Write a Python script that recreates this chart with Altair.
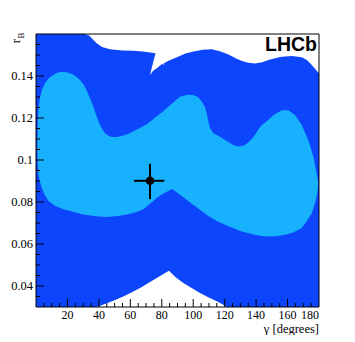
import altair as alt
import pandas as pd

# ---- data ----
OUTER_GAMMA = [0, 31, 34, 36.5, 38.6, 42, 47, 55, 62, 68, 76.0, 72.5, 74.5, 76.8, 80.6, 81.0, 81.4,
               85, 90, 95, 101, 106, 111.8, 117, 122.4, 127, 131, 135, 139.3, 144, 147.8, 152,
               156.3, 162.7, 169, 172.5, 175.4, 178, 180,
               180, 121.3, 118, 114.9, 109.6, 104.3, 99, 93.7, 89, 84.6, 80.5, 76.8, 71.5, 66.2,
               61, 55.5, 50, 45, 40, 38.6, 0]
OUTER_RB = [0.160, 0.160, 0.1592, 0.1572, 0.1556, 0.1538, 0.1527, 0.1522, 0.1520, 0.1517, 0.1508,
            0.1405, 0.1425, 0.1437, 0.1459, 0.1450, 0.1461,
            0.1475, 0.1490, 0.1507, 0.1518, 0.1525, 0.1527, 0.1518, 0.1502, 0.1485, 0.1471,
            0.1463, 0.1460, 0.1466, 0.1476, 0.1485, 0.1492, 0.1495, 0.1489, 0.1475, 0.1452,
            0.1430, 0.1413,
            0.030, 0.030, 0.0315, 0.0327, 0.0346, 0.0367, 0.0390, 0.0414, 0.0440, 0.0473,
            0.0455, 0.0438, 0.0414, 0.0390, 0.0370, 0.0350, 0.0332, 0.0318, 0.0303, 0.030, 0.030]

INNER_GAMMA = [1.1, 0.9, 0.9, 1.1, 1.5, 2.5, 3.8, 5.7, 8.0, 10.0, 13.0, 16.3, 19.5, 22.7, 25.5,
               28.0, 30.5, 32.6, 34.6, 36.5, 38.4, 40.3, 42.0, 43.9, 46.0, 48.2, 51.0, 54.5,
               58.0, 61.9, 66.0, 70.4, 73.5, 76.8, 80.5, 84.2, 88.0, 91.6, 95.8, 98.0, 100.0,
               103.2, 105.4, 107.5, 108.6, 109.6, 110.7, 112.8, 117.0, 121.3, 125.5, 128.5,
               131.9, 134.8, 137.2, 139.5, 141.5, 143.5, 146.0, 151.0, 156.3, 160.5, 164.8,
               169.0, 173.2, 176.4, 178.5, 179.5, 179.2, 178.5, 177.5, 175.5, 172.2, 169.0,
               163.7, 158.4, 153.0, 147.8, 143.5, 139.3, 130.8, 125.5, 120.2, 115.0, 109.6,
               104.3, 99.0, 95.8, 92.0, 88.4, 86.7, 83.5, 80.5, 76.8, 72.5, 68.3, 64.0, 58.0,
               52.0, 45.0, 38.0, 30.0, 24.0, 17.0, 12.0, 8.0, 5.5, 3.5, 2.2, 1.5]
INNER_RB = [0.0980, 0.1040, 0.1095, 0.1170, 0.1238, 0.1295, 0.1335, 0.1365, 0.1388, 0.1400,
            0.1414, 0.1420, 0.1418, 0.1410, 0.1398, 0.1381, 0.1357, 0.1325, 0.1290, 0.1253,
            0.1212, 0.1174, 0.1148, 0.1127, 0.1115, 0.1110, 0.1110, 0.1114, 0.1123, 0.1137,
            0.1152, 0.1170, 0.1188, 0.1208, 0.1230, 0.1253, 0.1278, 0.1301, 0.1309, 0.1311,
            0.1309, 0.1299, 0.1278, 0.1251, 0.1222, 0.1184, 0.1151, 0.1127, 0.1111, 0.1091,
            0.1071, 0.1064, 0.1068, 0.1082, 0.1100, 0.1122, 0.1148, 0.1165, 0.1180, 0.1213,
            0.1237, 0.1237, 0.1213, 0.1168, 0.1095, 0.1017, 0.0937, 0.0890, 0.0859, 0.0825,
            0.0795, 0.0748, 0.0708, 0.0676, 0.0655, 0.0644, 0.0637, 0.0636, 0.0638, 0.0644,
            0.0660, 0.0675, 0.0692, 0.0710, 0.0733, 0.0763, 0.0792, 0.0811, 0.0832, 0.0852,
            0.0862, 0.0850, 0.0838, 0.0819, 0.0792, 0.0765, 0.0752, 0.0740, 0.0733, 0.0729,
            0.0732, 0.0741, 0.0752, 0.0767, 0.0782, 0.0805, 0.0835, 0.0870, 0.0905, 0.0937]

BEST_GAMMA = [72.5]
BEST_RB = [0.0901]
GAMMA_LO = [62.3]
GAMMA_HI = [81.6]
RB_LO = [0.0814]
RB_HI = [0.0982]

X_LABELS = [20, 40, 60, 80, 100, 120, 140, 160]
X_LAST_LABEL = [180]
X_MAJOR = [20, 40, 60, 80, 100, 120, 140, 160]
X_MINOR = [5, 10, 15, 25, 30, 35, 45, 50, 55, 65, 70, 75, 85, 90, 95, 105, 110, 115,
           125, 130, 135, 145, 150, 155, 165, 170, 175]
Y_LABELS = [0.04, 0.06, 0.08, 0.1, 0.12, 0.14]
Y_MINOR = [0.035, 0.045, 0.05, 0.055, 0.065, 0.07, 0.075, 0.085, 0.09, 0.095, 0.105,
           0.11, 0.115, 0.125, 0.13, 0.135, 0.145, 0.15, 0.155]

DARK = "#0d45fc"
LIGHT = "#18b1fd"
W, H = 283, 273
SERIF = "Liberation Serif"

xs = alt.Scale(domain=[0, 180], nice=False, zero=False)
ys = alt.Scale(domain=[0.03, 0.16], nice=False, zero=False)

outer_df = pd.DataFrame({"g": OUTER_GAMMA, "r": OUTER_RB, "i": list(range(len(OUTER_GAMMA)))})
inner_df = pd.DataFrame({"g": INNER_GAMMA, "r": INNER_RB, "i": list(range(len(INNER_GAMMA)))})

outer = alt.Chart(outer_df).mark_line(filled=True, color=DARK, clip=True).encode(
    x=alt.X("g:Q", scale=xs, axis=None),
    y=alt.Y("r:Q", scale=ys, axis=None),
    order=alt.Order("i:Q"),
)
inner = alt.Chart(inner_df).mark_line(filled=True, color=LIGHT, clip=True).encode(
    x=alt.X("g:Q", scale=xs, axis=None),
    y=alt.Y("r:Q", scale=ys, axis=None),
    order=alt.Order("i:Q"),
)

def xticks(vals, length):
    return alt.Chart(pd.DataFrame({"v": vals})).mark_rule(color="black", strokeWidth=1).encode(
        x=alt.X("v:Q", scale=xs, axis=None), y=alt.value(H), y2=alt.value(H - length))

def yticks(vals, length):
    return alt.Chart(pd.DataFrame({"v": vals})).mark_rule(color="black", strokeWidth=1).encode(
        y=alt.Y("v:Q", scale=ys, axis=None), x=alt.value(0), x2=alt.value(length))

one = pd.DataFrame({"a": [0]})
frame_top = alt.Chart(one).mark_rule(color="black", strokeWidth=1).encode(
    x=alt.value(0), x2=alt.value(W), y=alt.value(0))
frame_right = alt.Chart(one).mark_rule(color="black", strokeWidth=1).encode(
    x=alt.value(W), y=alt.value(0), y2=alt.value(H))
frame_left = alt.Chart(one).mark_rule(color="black", strokeWidth=1).encode(
    x=alt.value(0), y=alt.value(0), y2=alt.value(H))
frame_bottom = alt.Chart(one).mark_rule(color="black", strokeWidth=1).encode(
    x=alt.value(0), x2=alt.value(W), y=alt.value(H))

x_lab = alt.Chart(pd.DataFrame({"v": X_LABELS})).mark_text(
    font=SERIF, fontSize=12, align="center", baseline="top", color="black").encode(
    x=alt.X("v:Q", scale=xs, axis=None), y=alt.value(H + 3), text=alt.Text("v:Q", format="d"))
x_lab_last = alt.Chart(pd.DataFrame({"v": X_LAST_LABEL})).mark_text(
    font=SERIF, fontSize=12, align="right", baseline="top", color="black").encode(
    x=alt.X("v:Q", scale=xs, axis=None), y=alt.value(H + 3), text=alt.Text("v:Q", format="d"))
y_lab = alt.Chart(pd.DataFrame({"v": Y_LABELS})).mark_text(
    font=SERIF, fontSize=12.5, align="right", baseline="middle", color="black").encode(
    y=alt.Y("v:Q", scale=ys, axis=None), x=alt.value(-3), text=alt.Text("v:Q", format="~g"))

best_df = pd.DataFrame({"g": BEST_GAMMA, "r": BEST_RB, "glo": GAMMA_LO, "ghi": GAMMA_HI,
                        "rlo": RB_LO, "rhi": RB_HI})
err_h = alt.Chart(best_df).mark_rule(color="black", strokeWidth=2).encode(
    x=alt.X("glo:Q", scale=xs, axis=None), x2="ghi:Q", y=alt.Y("r:Q", scale=ys, axis=None))
err_v = alt.Chart(best_df).mark_rule(color="black", strokeWidth=2).encode(
    x=alt.X("g:Q", scale=xs, axis=None), y=alt.Y("rlo:Q", scale=ys, axis=None), y2="rhi:Q")
pt = alt.Chart(best_df).mark_point(filled=True, shape="circle", size=72, color="black",
                                   opacity=1).encode(
    x=alt.X("g:Q", scale=xs, axis=None), y=alt.Y("r:Q", scale=ys, axis=None))

lhcb = alt.Chart(pd.DataFrame({"t": ["LHCb"]})).mark_text(
    font="Liberation Sans", fontWeight="bold", fontSize=19.5, align="right",
    baseline="alphabetic", color="black").encode(x=alt.value(281), y=alt.value(17), text="t:N")
r_txt = alt.Chart(pd.DataFrame({"t": ["r"]})).mark_text(
    font=SERIF, fontSize=13, angle=270, align="center", baseline="alphabetic",
    color="black").encode(x=alt.value(-16.5), y=alt.value(7), text="t:N")
b_txt = alt.Chart(pd.DataFrame({"t": ["B"]})).mark_text(
    font=SERIF, fontSize=9, angle=270, align="center", baseline="alphabetic",
    color="black").encode(x=alt.value(-12.5), y=alt.value(1.5), text="t:N")
x_title = alt.Chart(pd.DataFrame({"t": ["γ [degrees]"]})).mark_text(
    font=SERIF, fontSize=12.5, align="right", baseline="alphabetic",
    color="black").encode(x=alt.value(W), y=alt.value(299), text="t:N")

chart = alt.layer(
    outer, inner,
    xticks(X_MINOR, 4), xticks(X_MAJOR, 8), yticks(Y_MINOR, 4), yticks(Y_LABELS, 8),
    frame_top, frame_right, frame_left, frame_bottom,
    x_lab, x_lab_last, y_lab,
    err_h, err_v, pt, lhcb, r_txt, b_txt, x_title,
).properties(
    width=W, height=H,
    autosize=alt.AutoSizeParams(type="none"),
    padding={"left": 28, "top": 26, "right": 16, "bottom": 28},
).configure_view(stroke=None)

chart.save("out.html", embed_options={"renderer": "svg", "actions": False})
